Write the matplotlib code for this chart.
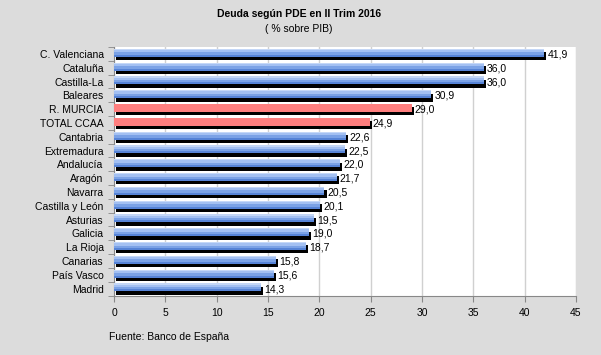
import numpy as np
import matplotlib.pyplot as plt

# datos
regiones = ['C. Valenciana', 'Cataluña', 'Castilla-La', 'Baleares', 'R. MURCIA',
            'TOTAL CCAA', 'Cantabria', 'Extremadura', 'Andalucía', 'Aragón',
            'Navarra', 'Castilla y León', 'Asturias', 'Galicia', 'La Rioja',
            'Canarias', 'País Vasco', 'Madrid']
deuda = [41.9, 36.0, 36.0, 30.9, 29.0, 24.9, 22.6, 22.5, 22.0, 21.7,
         20.5, 20.1, 19.5, 19.0, 18.7, 15.8, 15.6, 14.3]
destacados = ['R. MURCIA', 'TOTAL CCAA']

plt.rcParams['font.family'] = ['Liberation Sans', 'DejaVu Sans']

fig = plt.figure(figsize=(6.01, 3.55), dpi=100, facecolor='#DCDCDC')
ax = fig.add_axes([114/601, 1-295.5/355, 462/601, 248.5/355])

n = len(regiones)
y = np.arange(n)[::-1]
vals = np.array(deuda)
h = 0.58
dx, dy = 0.2, 0.24
yc = y + 0.08

# sombra negra
ax.barh(yc - dy, vals, left=dx, height=h, color='black', zorder=2)

rojo = np.array([r in destacados for r in regiones])
# barras azules con degradado
for frac, col in [(1.0, '#5683D6'), (0.75, '#7BA2E6'), (0.45, '#A3C0F2'), (0.15, '#C4D7F7')]:
    hh = h * frac
    ax.barh((yc + h/2 - hh/2)[~rojo], vals[~rojo], height=hh, color=col, zorder=3, linewidth=0)
ax.barh(yc[rojo], vals[rojo], height=h, color='#FF7F7F', zorder=3, linewidth=0)

for yi, v in zip(yc, vals):
    ax.text(v + dx + 0.1, yi - dy/2, f'{v:.1f}'.replace('.', ','), va='center', ha='left',
            fontsize=7.5, zorder=4)

ax.set_xlim(0, 45)
ax.set_ylim(-0.5, n - 0.5)
ax.set_xticks(np.arange(0, 46, 5))
ax.set_yticks(y)
ax.set_yticklabels(regiones, fontsize=7.5)
ax.set_yticks(np.arange(-0.5, n, 1), minor=True)
ax.tick_params(axis='y', which='major', length=0, pad=7.5)
ax.tick_params(axis='y', which='minor', length=4, color='#888888')
ax.tick_params(axis='x', length=4, color='#888888', labelsize=7.5, pad=5)
ax.grid(axis='x', color='#D0D0D0', linewidth=1, zorder=0)
ax.set_axisbelow(True)
for s in ['top', 'right']:
    ax.spines[s].set_visible(False)
for s in ['left', 'bottom']:
    ax.spines[s].set_color('#888888')

fig.text(0.497, 1 - 14/355, 'Deuda según PDE en II Trim 2016', ha='center', va='center',
         fontsize=7.5, fontweight='bold')
fig.text(0.497, 1 - 29/355, '( % sobre PIB)', ha='center', va='center', fontsize=7.5)
fig.text(109/601, 1 - 337/355, 'Fuente: Banco de España', ha='left', va='center', fontsize=7.5)

fig.savefig('out.png', dpi=100, facecolor=fig.get_facecolor())
